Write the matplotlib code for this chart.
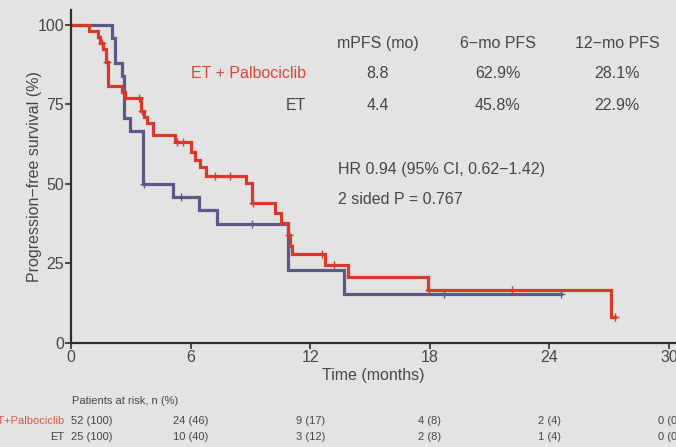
import numpy as np
import matplotlib
matplotlib.use('Agg')
import matplotlib.pyplot as plt
from matplotlib.transforms import blended_transform_factory

plt.rcParams['font.family'] = ['Liberation Sans', 'DejaVu Sans']

# Kaplan-Meier steps: time (months) where the curve drops, survival (%) after the drop
pal_times = [0, 0.92, 1.37, 1.45, 1.6, 1.75, 1.87, 2.54, 2.7, 3.5, 3.66, 3.8, 4.13,
             5.2, 6.0, 6.22, 6.47, 6.77, 8.78, 9.1, 10.25, 10.55, 10.9, 11.0, 11.1,
             12.75, 13.9, 17.9, 27.1]
pal_surv = [100, 98.1, 96.2, 94.2, 92.3, 88.5, 80.8, 78.8, 76.9, 73.1, 71.2, 69.2, 65.4,
            63.3, 60.2, 57.5, 55.4, 52.5, 50.2, 43.9, 40.8, 37.6, 34.0, 30.5, 28.1,
            24.5, 20.6, 16.7, 8.3]
pal_end = 27.3
pal_censor = [1.55, 1.8, 3.4, 3.55, 5.3, 5.6, 7.2, 8.0, 9.15, 10.95, 12.6, 13.2, 17.95, 22.1, 27.3]

et_times = [0, 2.05, 2.2, 2.55, 2.65, 2.95, 3.6, 5.1, 6.4, 7.3, 10.9, 13.7]
et_surv = [100, 96, 88, 84, 70.8, 66.7, 50.0, 45.8, 41.7, 37.5, 22.9, 15.3]
et_end = 24.6
et_censor = [3.65, 5.5, 9.1, 18.7, 24.6]

table_cols = ['mPFS (mo)', '6\u2212mo PFS', '12\u2212mo PFS']
table_rows = ['ET + Palbociclib', 'ET']
table_vals = [['8.8', '62.9%', '28.1%'],
              ['4.4', '45.8%', '22.9%']]
hr_text = 'HR 0.94 (95% CI, 0.62\u22121.42)'
p_text = '2 sided P = 0.767'

risk_times = [0, 6, 12, 18, 24, 30]
risk_labels = ['ET+Palbociclib', 'ET']
risk_pal = ['52 (100)', '24 (46)', '9 (17)', '4 (8)', '2 (4)', '0 (0)']
risk_et = ['25 (100)', '10 (40)', '3 (12)', '2 (8)', '1 (4)', '0 (0)']

bg = '#e3e3e3'
red = '#d8392b'
blue = '#5a5a86'
txt = '#474747'

fig = plt.figure(figsize=(6.76, 4.47), dpi=100, facecolor=bg)
ax = fig.add_axes([71 / 676, 104 / 447, 605 / 676, 333 / 447])
ax.set_facecolor(bg)


def km_line(times, surv, end, censor, color):
    t = list(times) + [end]
    s = list(surv) + [surv[-1]]
    ax.step(t, s, where='post', color=color, lw=2.3, solid_joinstyle='miter')
    idx = np.searchsorted(times, censor, side='right') - 1
    ax.plot(censor, np.array(surv)[idx], ls='none', marker='+', ms=6, mew=1.0, color=color)


km_line(et_times, et_surv, et_end, et_censor, blue)
km_line(pal_times, pal_surv, pal_end, pal_censor, red)

ax.set_xlim(0, 30.35)
ax.set_ylim(0, 104.7)
ax.set_xticks(risk_times)
ax.set_yticks([0, 25, 50, 75, 100])
for side in ['top', 'right']:
    ax.spines[side].set_visible(False)
for side in ['left', 'bottom']:
    ax.spines[side].set_color('#2f2f2f')
    ax.spines[side].set_linewidth(1.6)
ax.tick_params(direction='out', length=4, width=1.2, pad=1, labelsize=11.5,
               colors='#2f2f2f', labelcolor=txt)
ax.set_ylabel('Progression\u2212free survival (%)', fontsize=11.5, color=txt, labelpad=-3)
ax.set_xlabel('Time (months)', fontsize=11.5, color=txt, labelpad=2)

# summary table in the upper right
col_x = [15.4, 21.4, 27.4]
row_y = [84.6, 74.8]
for x, c in zip(col_x, table_cols):
    ax.text(x, 94.3, c, ha='center', va='center', fontsize=11.5, color=txt)
for r, (name, vals) in enumerate(zip(table_rows, table_vals)):
    ax.text(11.8, row_y[r], name, ha='right', va='center', fontsize=11.5,
            color='#d04a38' if r == 0 else txt)
    for x, v in zip(col_x, vals):
        ax.text(x, row_y[r], v, ha='center', va='center', fontsize=11.5, color=txt)
ax.text(13.4, 54.4, hr_text, ha='left', va='center', fontsize=11.5, color=txt)
ax.text(13.4, 45.0, p_text, ha='left', va='center', fontsize=11.5, color=txt)

# numbers at risk below the axis
tr = blended_transform_factory(ax.transData, fig.transFigure)
fig.text(72 / 676, 1 - 401 / 447, 'Patients at risk, n (%)', ha='left', va='center',
         fontsize=8, color=txt)
for row, (lab, vals) in enumerate(zip(risk_labels, [risk_pal, risk_et])):
    y = 1 - (421.5 + 15 * row) / 447
    fig.text(64 / 676, y, lab, ha='right', va='center', fontsize=8,
             color='#d65a48' if row == 0 else txt)
    for i, (t, v) in enumerate(zip(risk_times, vals)):
        ax.text(t, y, v, transform=tr, ha='left' if i == 0 else 'center',
                va='center', fontsize=8, color=txt, clip_on=False)

plt.savefig('out.png', dpi=100, facecolor=bg)
